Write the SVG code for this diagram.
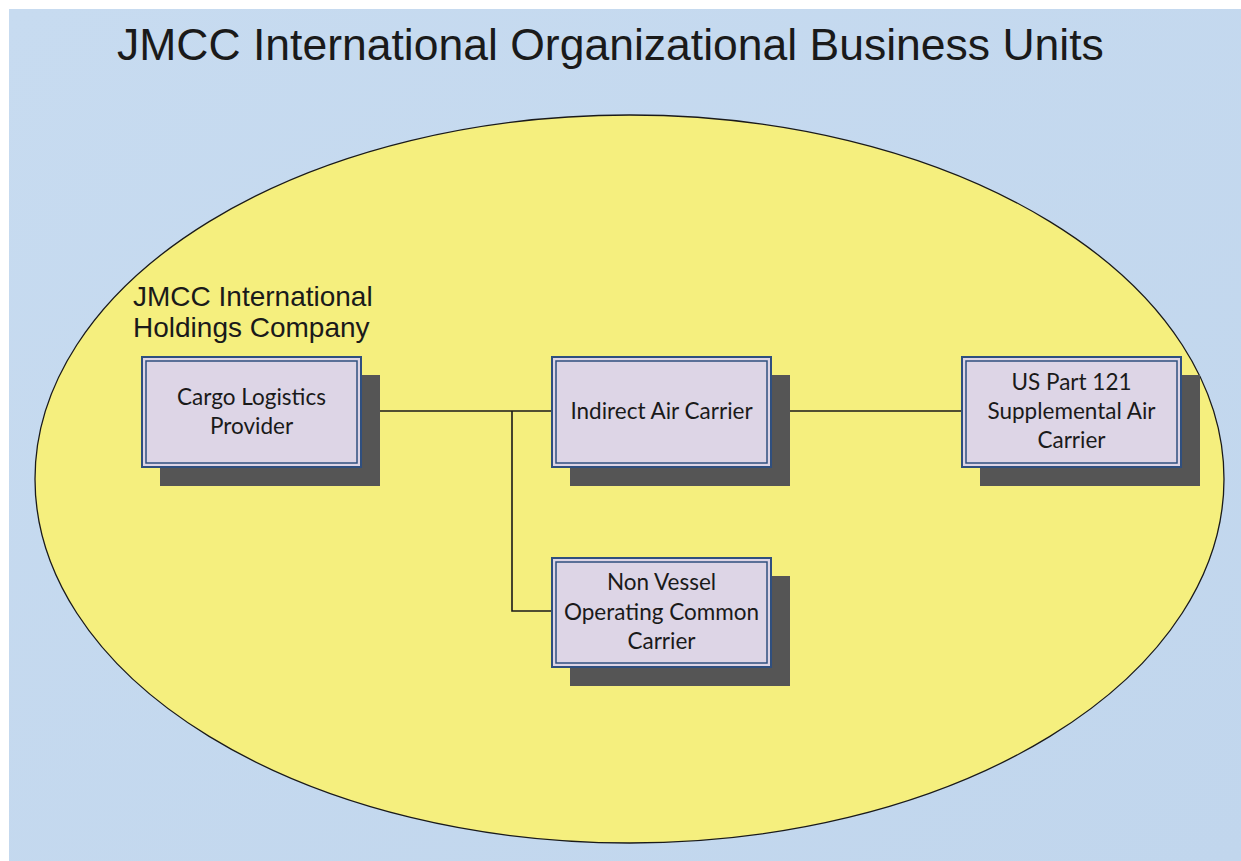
<svg xmlns="http://www.w3.org/2000/svg" width="1241" height="861" viewBox="0 0 1241 861">
  <defs>
    <linearGradient id="bg" x1="0" y1="0" x2="1" y2="1">
      <stop offset="0" stop-color="#c7dbf0"/>
      <stop offset="1" stop-color="#c1d6ed"/>
    </linearGradient>
  </defs>
  <style>
    .title { font-family: "Liberation Sans", Arial, sans-serif; font-size: 44.5px; fill: #1a1a1a; }
    .group-label { font-family: "Liberation Sans", Arial, sans-serif; font-size: 28px; fill: #1a1a1a; }
    .shadow { fill: #555555; }
    .box { fill: #ddd5e6; stroke: #2f4f7f; stroke-width: 2; }
    .box-inner { fill: none; stroke: #2f4f7f; stroke-width: 1.5; }
    .label { font-family: Lato, "Open Sans", sans-serif; font-size: 22.5px; fill: #1a1a1a; text-anchor: middle; }
    .conn { fill: none; stroke: #1a1a1a; stroke-width: 1.6; }
  </style>

  <!-- page background -->
  <rect x="0" y="0" width="1241" height="861" fill="#ffffff"/>
  <rect x="9" y="9" width="1232" height="852" fill="url(#bg)"/>

  <text class="title" x="117" y="60">JMCC International Organizational Business Units</text>

  <!-- holdings company boundary -->
  <ellipse cx="629.5" cy="479" rx="594.5" ry="364" fill="#f5ef7e" stroke="#1a1a1a" stroke-width="1.3"/>

  <text class="group-label" x="133" y="306">JMCC International</text>
  <text class="group-label" x="133" y="337">Holdings Company</text>

  <!-- connectors -->
  <g id="connectors">
    <path class="conn" d="M361 411 H551"/>
    <path class="conn" d="M771 411 H962"/>
    <path class="conn" d="M512 411 V611 H551"/>
  </g>

  <g id="cargo-logistics-provider">
    <rect class="shadow" x="160" y="375" width="220" height="111"/>
    <rect class="box" x="142" y="357" width="219" height="110"/>
    <rect class="box-inner" x="146" y="361" width="211" height="102"/>
    <text class="label" x="251.5" y="405">Cargo Logistics</text>
    <text class="label" x="251.5" y="434">Provider</text>
  </g>

  <g id="indirect-air-carrier">
    <rect class="shadow" x="570" y="375" width="220" height="111"/>
    <rect class="box" x="552" y="357" width="219" height="110"/>
    <rect class="box-inner" x="556" y="361" width="211" height="102"/>
    <text class="label" x="661.5" y="419">Indirect Air Carrier</text>
  </g>

  <g id="us-part-121-supplemental-air-carrier">
    <rect class="shadow" x="980" y="375" width="220" height="111"/>
    <rect class="box" x="962" y="357" width="219" height="110"/>
    <rect class="box-inner" x="966" y="361" width="211" height="102"/>
    <text class="label" x="1071.5" y="390">US Part 121</text>
    <text class="label" x="1071.5" y="419">Supplemental Air</text>
    <text class="label" x="1071.5" y="448">Carrier</text>
  </g>

  <g id="non-vessel-operating-common-carrier">
    <rect class="shadow" x="570" y="576" width="220" height="110"/>
    <rect class="box" x="552" y="558" width="219" height="109"/>
    <rect class="box-inner" x="556" y="562" width="211" height="101"/>
    <text class="label" x="661.5" y="590">Non Vessel</text>
    <text class="label" x="661.5" y="620">Operating Common</text>
    <text class="label" x="661.5" y="649">Carrier</text>
  </g>
</svg>
